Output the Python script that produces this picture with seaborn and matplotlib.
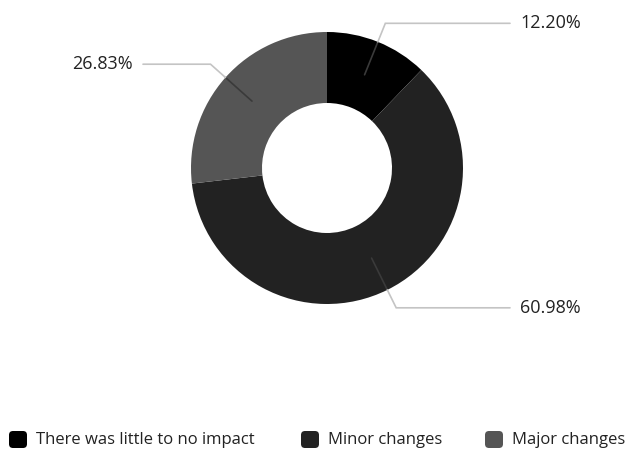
import numpy as np
import matplotlib.pyplot as plt
from matplotlib.patches import FancyBboxPatch
import seaborn as sns

# data
categories = ['There was little to no impact', 'Minor changes', 'Major changes']
values = [12.20, 60.98, 26.83]
colors = ['#000000', '#222222', '#555555']

sns.set_style("white")
plt.rcParams['font.family'] = ['Open Sans', 'DejaVu Sans']

W, H = 627, 454
fig = plt.figure(figsize=(W / 100, H / 100), dpi=100)
ax = fig.add_axes([0, 0, 1, 1])

cx, cy = 327, H - 168
r_out, r_in = 136, 65

wedges, _ = ax.pie(values, colors=colors, startangle=90, counterclock=False,
                   center=(cx, cy), radius=r_out,
                   wedgeprops=dict(width=r_out - r_in, linewidth=0))

ax.set_xlim(0, W)
ax.set_ylim(0, H)
ax.set_aspect('equal')
ax.axis('off')

# leader lines and labels
for w, v in zip(wedges, values):
    ang = np.deg2rad((w.theta1 + w.theta2) / 2)
    r_mid = (r_out + r_in) / 2
    x0, y0 = cx + r_mid * np.cos(ang), cy + r_mid * np.sin(ang)
    xe, ye = cx + r_out * np.cos(ang), cy + r_out * np.sin(ang)
    x1, y1 = cx + 156 * np.cos(ang), cy + 156 * np.sin(ang)
    if np.cos(ang) >= 0:
        x2 = 510
        ax.text(x2 + 10, y1, f'{v:.2f}%', ha='left', va='center',
                fontsize=13, color='#222222')
    else:
        x2 = 143
        ax.text(x2 - 10, y1, f'{v:.2f}%', ha='right', va='center',
                fontsize=13, color='#222222')
    # inner part of the leader sits on the ring
    ax.plot([x0, xe], [y0, ye], color='#3a3a3a', lw=1.2)
    ax.plot([xe, x1, x2], [ye, y1, y1], color='#c4c4c4', lw=1.2,
            solid_joinstyle='miter')

# legend
leg_y = H - 440
leg_x = [8, 300, 484]
for x, c, lab in zip(leg_x, colors, categories):
    ax.add_patch(FancyBboxPatch((x + 1, leg_y - 8), 18, 17,
                                boxstyle='round,pad=0,rounding_size=4',
                                facecolor=c, edgecolor='none'))
    ax.text(x + 28, leg_y, lab, ha='left', va='center', fontsize=12,
            color='#222222')

fig.savefig('out.png', dpi=100)
